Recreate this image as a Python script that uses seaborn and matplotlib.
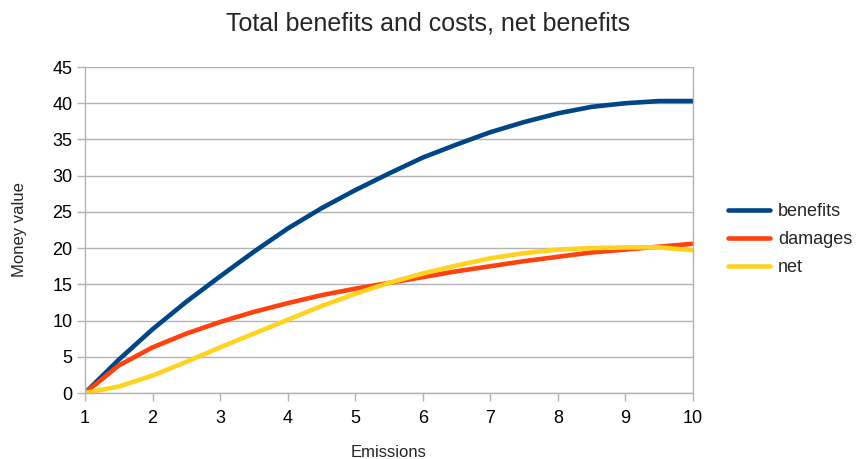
import matplotlib
matplotlib.use("Agg")
import matplotlib.pyplot as plt
import seaborn as sns
import pandas as pd

emissions = [1.0, 1.5, 2.0, 2.5, 3.0, 3.5, 4.0, 4.5, 5.0, 5.5, 6.0, 6.5, 7.0, 7.5, 8.0, 8.5, 9.0, 9.5, 10.0]
benefits = [0.0, 4.6, 8.8, 12.6, 16.1, 19.5, 22.7, 25.5, 28.0, 30.3, 32.5, 34.3, 36.0, 37.4, 38.6, 39.5, 40.0, 40.3, 40.3]
damages = [0.0, 3.8, 6.3, 8.2, 9.8, 11.2, 12.4, 13.5, 14.4, 15.2, 16.0, 16.8, 17.5, 18.2, 18.8, 19.4, 19.8, 20.2, 20.6]
net = [0.0, 0.9, 2.4, 4.3, 6.3, 8.2, 10.1, 12.0, 13.7, 15.2, 16.5, 17.6, 18.6, 19.3, 19.8, 20.0, 20.1, 20.1, 19.7]
series_names = ["benefits", "damages", "net"]
palette = ["#004586", "#ff420e", "#ffd320"]

df = pd.DataFrame({"Emissions": emissions, "benefits": benefits, "damages": damages, "net": net})
long = df.melt(id_vars="Emissions", var_name="series", value_name="value")

sns.set_theme(style="white")
plt.rcParams["font.family"] = ["Liberation Sans", "DejaVu Sans"]

fig = plt.figure(figsize=(8.56, 4.59), dpi=100)
ax = fig.add_axes([85 / 856, 66 / 459, (693 - 85) / 856, (393 - 67) / 459])

sns.lineplot(data=long, x="Emissions", y="value", hue="series", hue_order=series_names,
             palette=palette, linewidth=3.3, ax=ax, legend=True)

ax.set_xlim(1, 10)
ax.set_ylim(0, 45)
ax.set_xticks(range(1, 11))
ax.set_yticks(range(0, 46, 5))
ax.yaxis.grid(True, color="#b3b3b3", linewidth=1)
ax.xaxis.grid(False)
ax.set_axisbelow(True)
for side in ["left", "bottom", "right"]:
    ax.spines[side].set_visible(True)
    ax.spines[side].set_color("#b3b3b3")
    ax.spines[side].set_linewidth(1)
ax.spines["top"].set_visible(False)
ax.tick_params(axis="both", which="major", direction="out", length=6, width=1,
               color="#b3b3b3", labelsize=13, labelcolor="#000000")
ax.tick_params(axis="x", pad=6)
ax.tick_params(axis="y", pad=3)
ax.tick_params(left=True, bottom=True)

ax.set_xlabel("Emissions", fontsize=12, labelpad=13.5)
ax.set_ylabel("Money value", fontsize=12, labelpad=18)
fig.suptitle("Total benefits and costs, net benefits", fontsize=18, y=0.975)

handles, labels = ax.get_legend_handles_labels()
ax.legend(handles, labels, loc="center left", bbox_to_anchor=(1.037, 0.47), frameon=False,
          fontsize=13, handlelength=2.3, handletextpad=0.45, labelspacing=0.6,
          borderaxespad=0.3)

fig.savefig("out.png", dpi=100)
